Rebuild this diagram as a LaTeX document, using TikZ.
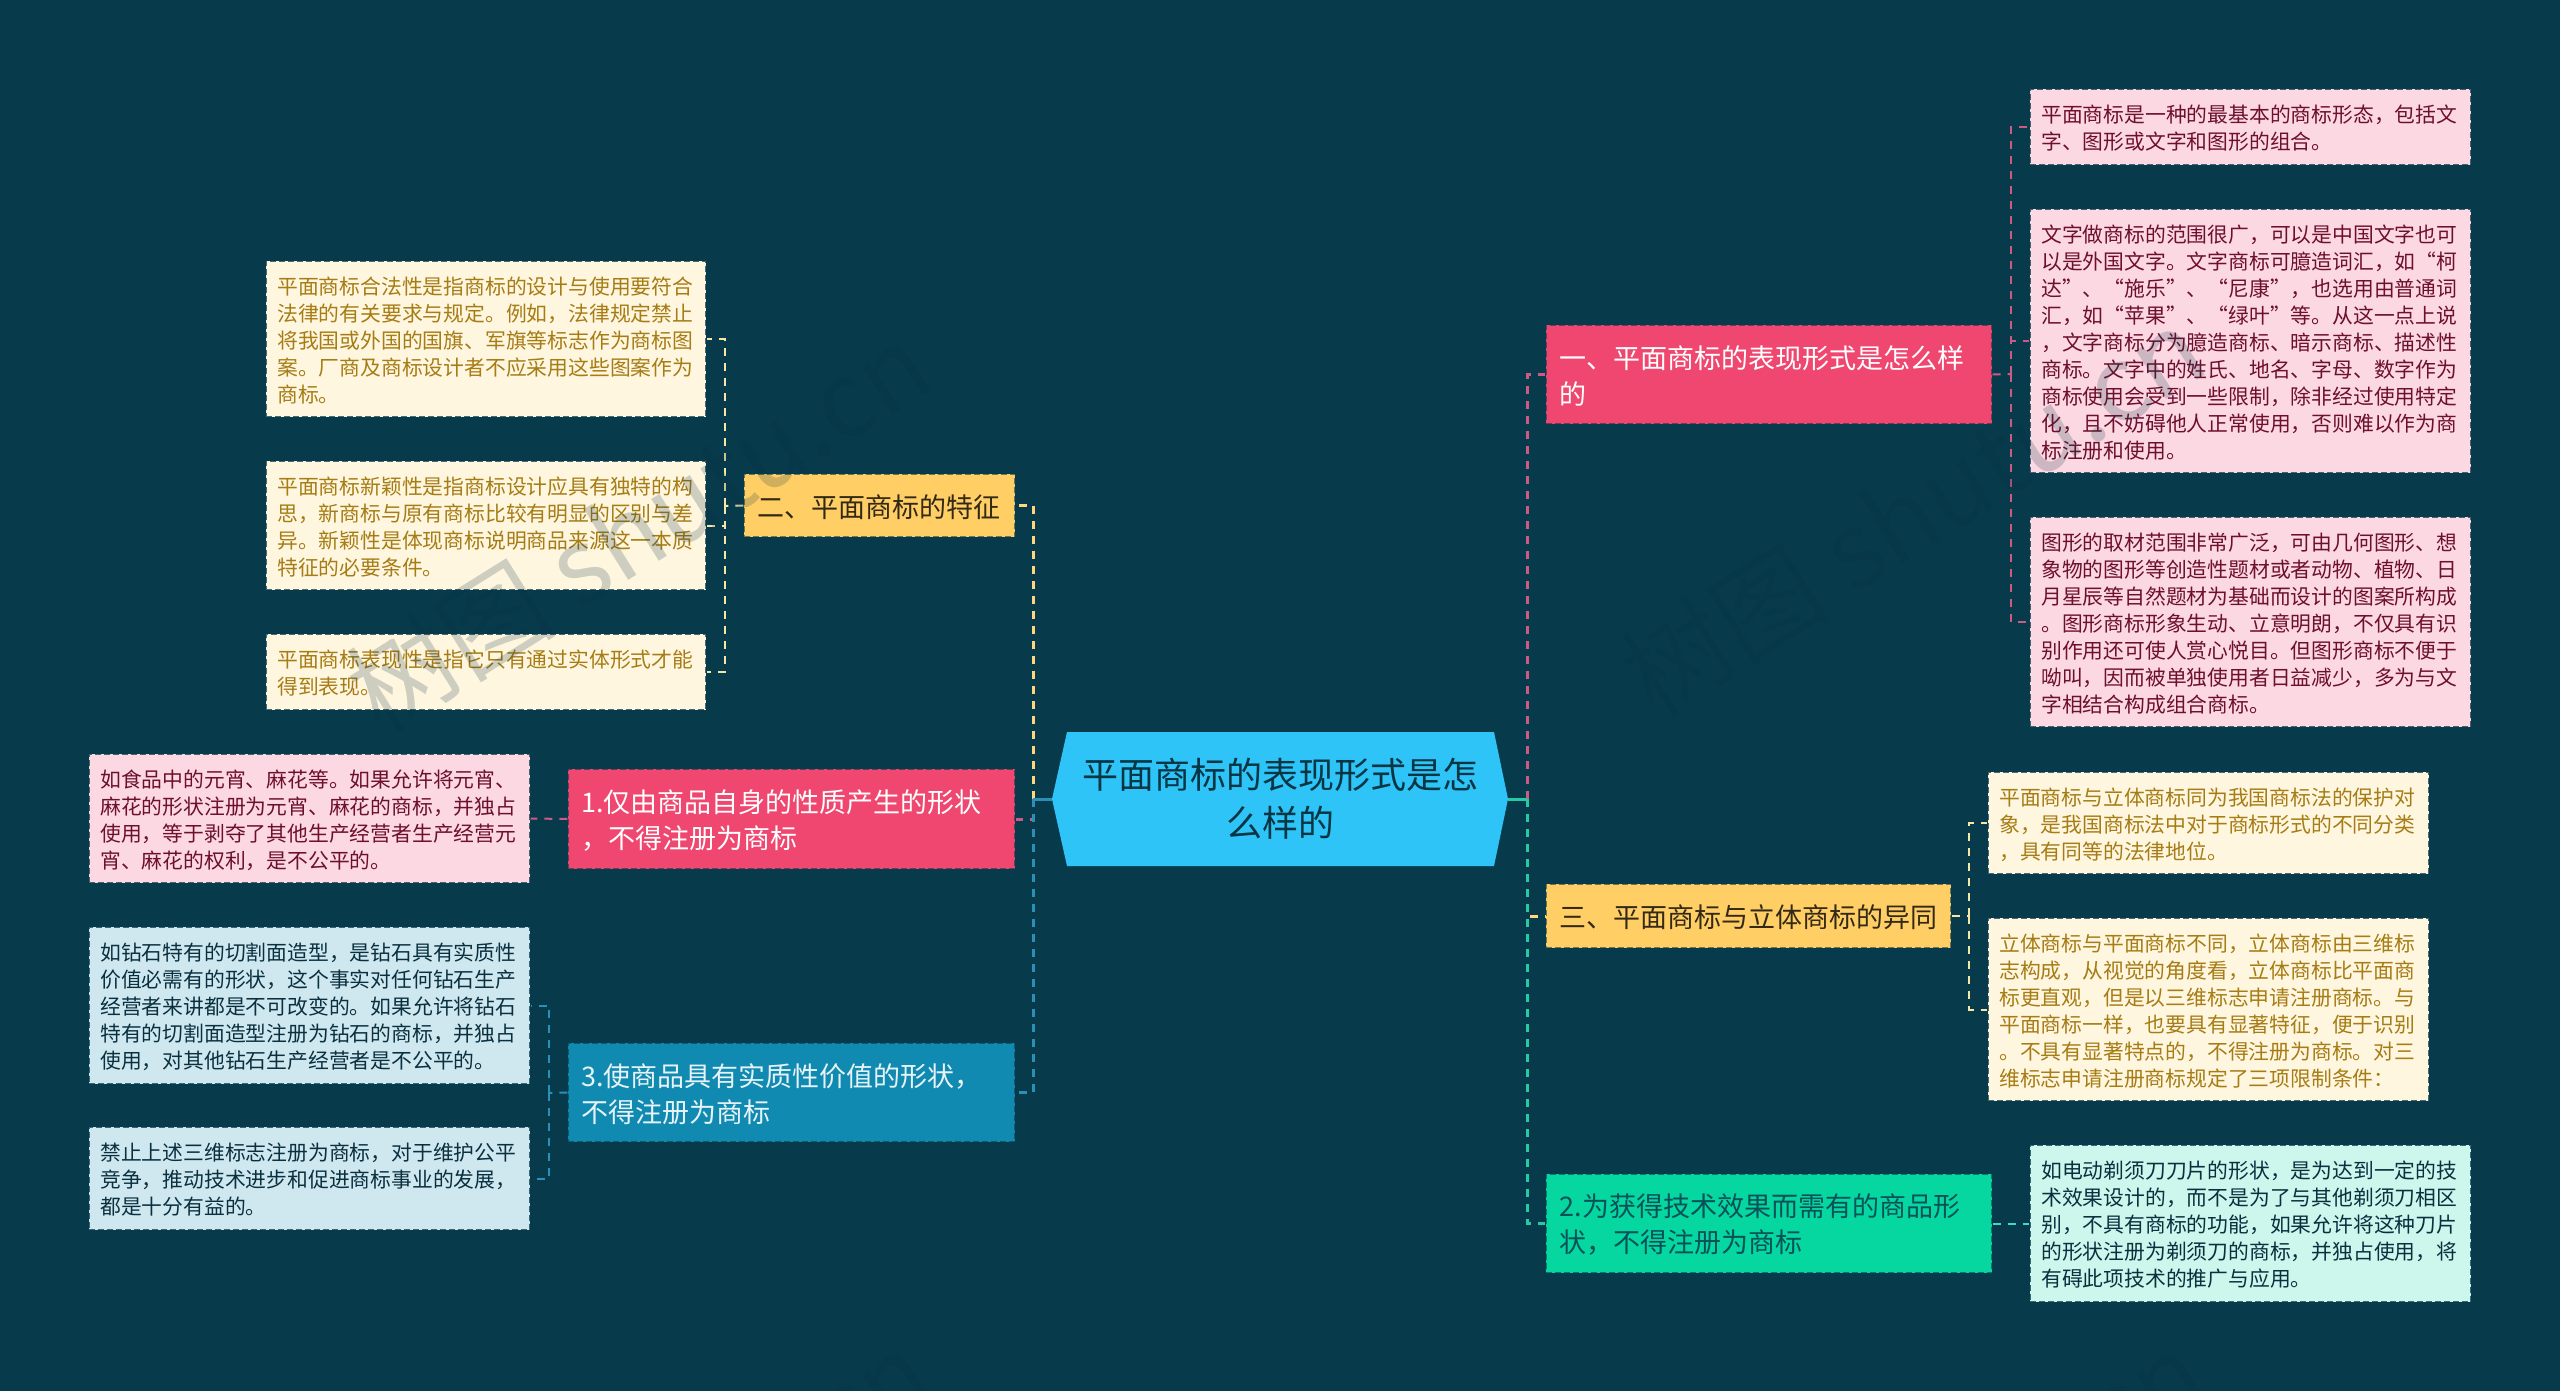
\documentclass[tikz,border=0pt]{standalone}
\usepackage{fontspec}
\setmainfont{Noto Sans CJK SC}
\definecolor{bg}{HTML}{073B4C}
\definecolor{cMain}{HTML}{2EC4F7}
\definecolor{cPink}{HTML}{EF476F}
\definecolor{cYel}{HTML}{FFCF66}
\definecolor{cBlue}{HTML}{118AB2}
\definecolor{cGreen}{HTML}{06D6A0}
\definecolor{lPink}{HTML}{FCD9E2}
\definecolor{lYel}{HTML}{FFF6E0}
\definecolor{lBlue}{HTML}{CFE8F0}
\definecolor{lGreen}{HTML}{CDF7EC}
\definecolor{tPink}{HTML}{6E0F2F}
\definecolor{tYel}{HTML}{A67C14}
\definecolor{tDark}{HTML}{0A3040}
\definecolor{wPink}{HTML}{CC5A85}
\definecolor{wYel}{HTML}{F6E7A8}
\definecolor{wBlue}{HTML}{2A90B8}
\definecolor{wGreen}{HTML}{3CDDBE}
\definecolor{wTrunk}{HTML}{26CBA3}
\definecolor{wMark}{HTML}{082F3D}
\tikzset{
  anybox/.style={inner sep=0pt,draw=bg,draw opacity=.75,line width=1.4pt,dash pattern=on 6pt off 3pt},
  leafbox/.style={anybox,font=\fontsize{20.8}{27}\selectfont},
  leafpink/.style={leafbox,fill=lPink,text=tPink},
  leafyel/.style={leafbox,fill=lYel,text=tYel},
  leafblue/.style={leafbox,fill=lBlue,text=tDark},
  leafgreen/.style={leafbox,fill=lGreen,text=tDark},
  branchbox/.style={anybox,draw opacity=.6,font=\fontsize{27}{36}\selectfont},
  brpink/.style={branchbox,fill=cPink,text=white},
  bryel/.style={branchbox,fill=cYel,text=black!80!cYel},
  brblue/.style={branchbox,fill=cBlue,text=white!90!cBlue},
  brgreen/.style={branchbox,fill=cGreen,text=bg!85!cGreen},
  trunkline/.style={line width=3pt,dash pattern=on 8pt off 7pt},
  twigline/.style={line width=2pt,dash pattern=on 8pt off 7pt},
  stubline/.style={line width=3pt},
  watermark/.style={font=\fontsize{105}{105}\selectfont,text=wMark,opacity=.2,rotate=32,anchor=west,inner sep=0pt},
}
\newcommand\tbox[7]{%
  \pgfmathsetmacro\bw{#5-#3}\pgfmathsetmacro\bh{#6-#4}%
  \pgfmathsetmacro\bx{(#3+#5)/2}\pgfmathsetmacro\by{(#4+#6)/2}%
  \pgfmathsetmacro\bt{\bw-\tpad}%
  \node[#1,minimum width=\bw pt,minimum height=\bh pt] (#2) at (\bx,\by)
    {\raisebox{-1.5pt}[\height][\depth]{\parbox{\bt pt}{\raggedright #7}}};}
\begin{document}
\begin{tikzpicture}[x=1pt,y=-1pt]
\useasboundingbox (0,0) rectangle (2560,1391);
\fill[bg] (0,0) rectangle (2560,1391);

% hubs
\coordinate (hubL) at (1033,799);
\coordinate (hubR) at (1527,799);
\coordinate (hub2) at (725,506);
\coordinate (hub3) at (549,1093);
\coordinate (hub1) at (2011,374);
\coordinate (hubS) at (1969,916);

% main shape and text
\fill[cMain] (1052,799) -- (1067,732) -- (1494,732) -- (1508,799) -- (1494,866) -- (1067,866) -- cycle;
\node[minimum width=456pt,minimum height=134pt,inner sep=0pt,align=center,text=bg!90!black,font=\fontsize{36}{48}\selectfont] (main) at (1280,799) {平面商标的表现形式是怎\\么样的};

% branch nodes
\def\tpad{27}
\tbox{brpink}{n1}{1546}{325}{1992}{424}{一、平面商标的表现形式是怎么样\\的}
\tbox{bryel}{n2}{744}{474}{1015}{537}{二、平面商标的特征}
\tbox{bryel}{n3}{1546}{884}{1951}{948}{三、平面商标与立体商标的异同}
\tbox{brpink}{a1}{568}{769}{1015}{869}{1.仅由商品自身的性质产生的形状\\，不得注册为商标}
\tbox{brgreen}{a2}{1546}{1174}{1992}{1273}{2.为获得技术效果而需有的商品形\\状，不得注册为商标}
\tbox{brblue}{a3}{568}{1043}{1015}{1142}{3.使商品具有实质性价值的形状，\\不得注册为商标}

% leaves
\def\tpad{22.5}
\tbox{leafpink}{r1}{2030}{89}{2471}{165}{平面商标是一种的最基本的商标形态，包括文\\字、图形或文字和图形的组合。}
\tbox{leafpink}{r2}{2030}{209}{2471}{473}{文字做商标的范围很广，可以是中国文字也可\\以是外国文字。文字商标可臆造词汇，如“柯\\达”、“施乐”、“尼康”，也选用由普通词\\汇，如“苹果”、“绿叶”等。从这一点上说\\，文字商标分为臆造商标、暗示商标、描述性\\商标。文字中的姓氏、地名、字母、数字作为\\商标使用会受到一些限制，除非经过使用特定\\化，且不妨碍他人正常使用，否则难以作为商\\标注册和使用。}
\tbox{leafpink}{r3}{2030}{517}{2471}{727}{图形的取材范围非常广泛，可由几何图形、想\\象物的图形等创造性题材或者动物、植物、日\\月星辰等自然题材为基础而设计的图案所构成\\。图形商标形象生动、立意明朗，不仅具有识\\别作用还可使人赏心悦目。但图形商标不便于\\呦叫，因而被单独使用者日益减少，多为与文\\字相结合构成组合商标。}
\tbox{leafyel}{s1}{1988}{772}{2429}{874}{平面商标与立体商标同为我国商标法的保护对\\象，是我国商标法中对于商标形式的不同分类\\，具有同等的法律地位。}
\tbox{leafyel}{s2}{1988}{918}{2429}{1101}{立体商标与平面商标不同，立体商标由三维标\\志构成，从视觉的角度看，立体商标比平面商\\标更直观，但是以三维标志申请注册商标。与\\平面商标一样，也要具有显著特征，便于识别\\。不具有显著特点的，不得注册为商标。对三\\维标志申请注册商标规定了三项限制条件：}
\tbox{leafgreen}{g1}{2030}{1145}{2471}{1302}{如电动剃须刀刀片的形状，是为达到一定的技\\术效果设计的，而不是为了与其他剃须刀相区\\别，不具有商标的功能，如果允许将这种刀片\\的形状注册为剃须刀的商标，并独占使用，将\\有碍此项技术的推广与应用。}
\tbox{leafyel}{y1}{266}{261}{706}{417}{平面商标合法性是指商标的设计与使用要符合\\法律的有关要求与规定。例如，法律规定禁止\\将我国或外国的国旗、军旗等标志作为商标图\\案。厂商及商标设计者不应采用这些图案作为\\商标。}
\tbox{leafyel}{y2}{266}{461}{706}{590}{平面商标新颖性是指商标设计应具有独特的构\\思，新商标与原有商标比较有明显的区别与差\\异。新颖性是体现商标说明商品来源这一本质\\特征的必要条件。}
\tbox{leafyel}{y3}{266}{634}{706}{710}{平面商标表现性是指它只有通过实体形式才能\\得到表现。}
\tbox{leafpink}{p1}{89}{754}{530}{883}{如食品中的元宵、麻花等。如果允许将元宵、\\麻花的形状注册为元宵、麻花的商标，并独占\\使用，等于剥夺了其他生产经营者生产经营元\\宵、麻花的权利，是不公平的。}
\tbox{leafblue}{b1}{89}{927}{530}{1084}{如钻石特有的切割面造型，是钻石具有实质性\\价值必需有的形状，这个事实对任何钻石生产\\经营者来讲都是不可改变的。如果允许将钻石\\特有的切割面造型注册为钻石的商标，并独占\\使用，对其他钻石生产经营者是不公平的。}
\tbox{leafblue}{b2}{89}{1127}{530}{1230}{禁止上述三维标志注册为商标，对于维护公平\\竞争，推动技术进步和促进商标事业的发展，\\都是十分有益的。}

% trunk connectors
\draw[trunkline,wPink] (hubR) |- (n1.west);
\draw[trunkline,cYel!85!white] (hubL) |- (n2.east);
\draw[trunkline,cYel!85!white] (hubR) |- (n3.west);
\draw[trunkline,wPink] (hubL) |- (a1.east);
\draw[trunkline,wBlue] (hubL) |- (a3.east);
\draw[trunkline,wTrunk] (hubR) |- (a2.west);
\draw[stubline,wBlue] (main.west) -- (hubL);
\draw[stubline,wTrunk] (main.east) -- (hubR);

% twig connectors
\draw[twigline,wPink] (n1.east) -- (hub1);
\draw[twigline,wPink] (hub1) |- (r1.west);
\draw[twigline,wPink] (hub1) |- (r2.west);
\draw[twigline,wPink] (hub1) |- (r3.west);
\draw[twigline,wYel] (n3.east) -- (hubS);
\draw[twigline,wYel] (hubS) |- (s1.west);
\draw[twigline,wYel] (hubS) |- (s2.west);
\draw[twigline,wGreen] (a2.east) -- (g1.west);
\draw[twigline,wYel] (n2.west) -- (hub2);
\draw[twigline,wYel] (hub2) |- (y1.east);
\draw[twigline,wYel] (hub2) |- (y2.east);
\draw[twigline,wYel] (hub2) |- (y3.east);
\draw[twigline,wPink] (a1.west) -- (p1.east);
\draw[twigline,wBlue] (a3.west) -- (hub3);
\draw[twigline,wBlue] (hub3) |- (b1.east);
\draw[twigline,wBlue] (hub3) |- (b2.east);

% watermarks
\node[watermark] (wm1) at (359,702) {树图 shutu.cn};
\node[watermark] (wm2) at (1633,686) {树图 shutu.cn};
\node[watermark] (wm3) at (359,1710) {树图 shutu.cn};
\node[watermark] (wm4) at (1633,1710) {树图 shutu.cn};
\end{tikzpicture}
\end{document}
